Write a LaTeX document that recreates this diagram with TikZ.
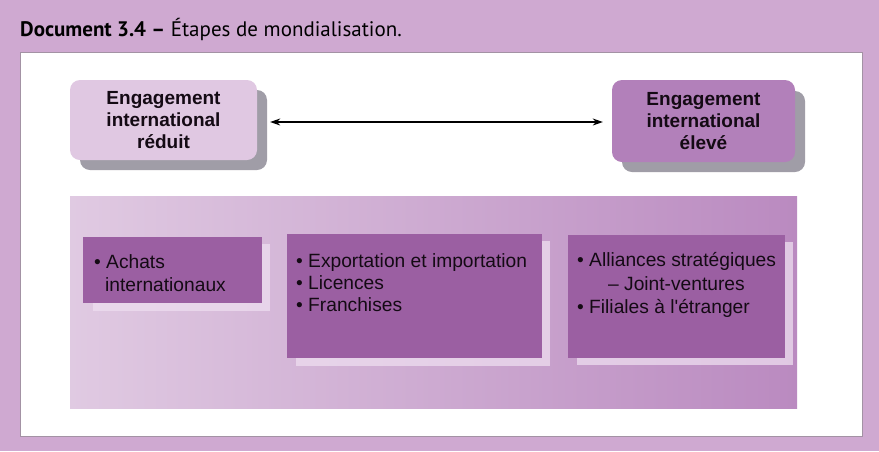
\documentclass[tikz,border=0pt]{standalone}
\usepackage{fontspec}
\setmainfont{Liberation Sans}
\newfontfamily\titlefont{PT Sans}
\usetikzlibrary{arrows.meta}
\definecolor{bgpurple}{RGB}{207,169,209}
\definecolor{lowfill}{RGB}{224,200,226}
\definecolor{highfill}{RGB}{178,128,186}
\definecolor{boxfill}{RGB}{155,95,162}
\definecolor{panelleft}{RGB}{224,202,226}
\definecolor{panelright}{RGB}{186,138,192}
\definecolor{shadowgray}{RGB}{160,157,167}
\definecolor{stripcol}{RGB}{238,222,240}
\definecolor{txt}{RGB}{20,10,20}
\tikzset{
  topbox/.style={rounded corners=10pt, inner sep=0pt, minimum width=187pt, minimum height=80pt,
    align=center, font=\fontsize{19}{22}\selectfont\bfseries, text=txt},
  topshadow/.style={fill=shadowgray, rounded corners=10pt},
  itembox/.style={fill=boxfill, inner sep=0pt, anchor=north west},
  itemstrip/.style={fill=stripcol, opacity=0.75},
  itemtext/.style={anchor=base west, inner sep=0pt,
    font=\fontsize{19.2}{23}\selectfont, text=txt},
  conn/.style={<->, >={Stealth[length=10pt,width=7pt]}, line width=1.1pt, black}
}
\begin{document}
\begin{tikzpicture}[x=1pt,y=-1pt]
\useasboundingbox (0,0) rectangle (879,451);
\fill[bgpurple] (0,0) rectangle (879,451);
\node[anchor=base west, inner sep=0pt, font=\titlefont\fontsize{21}{23}\selectfont, text=black] (title) at (20,36)
  {\textbf{Document 3.4 –} Étapes de mondialisation.};
% white panel
\draw[fill=white, draw=gray!55!bgpurple, line width=1pt] (20,52) rectangle (862,436);
% top boxes
\fill[topshadow] (80,90) rectangle (267,170);
\fill[topshadow] (622,91) rectangle (805,172);
\node[topbox, fill=lowfill] (low) at (163.5,120) {Engagement\\international\\réduit};
\node[topbox, fill=highfill, minimum width=183pt, minimum height=82pt] (high) at (703.5,121) {Engagement\\international\\élevé};
\draw[conn] ([xshift=13pt,yshift=-2pt]low.east) -- ([xshift=-9pt,yshift=-1pt]high.west);
% lower panel
\shade[left color=panelleft, right color=panelright] (70,196) rectangle (797,408);
% item boxes
\fill[itemstrip] (93,244) rectangle (270,311);
\node[itembox, minimum width=179pt, minimum height=66pt] (b1) at (83,237) {};
\fill[itemstrip] (296,241) rectangle (550,366);
\node[itembox, minimum width=255pt, minimum height=124pt] (b2) at (287,234) {};
\fill[itemstrip] (577,242) rectangle (793,365);
\node[itembox, minimum width=217pt, minimum height=123pt] (b3) at (568,235) {};
% texts
\node[itemtext] (t1a) at (94,268) {• Achats};
\node[itemtext] (t1b) at (105,291) {internationaux};
\node[itemtext] (t2a) at (296,267) {• Exportation et importation};
\node[itemtext] (t2b) at (296,289) {• Licences};
\node[itemtext] (t2c) at (296,311) {• Franchises};
\node[itemtext] (t3a) at (577,266) {• Alliances stratégiques};
\node[itemtext] (t3b) at (608,290) {– Joint-ventures};
\node[itemtext] (t3c) at (577,313) {• Filiales à l\textquotesingle étranger};
\end{tikzpicture}
\end{document}
